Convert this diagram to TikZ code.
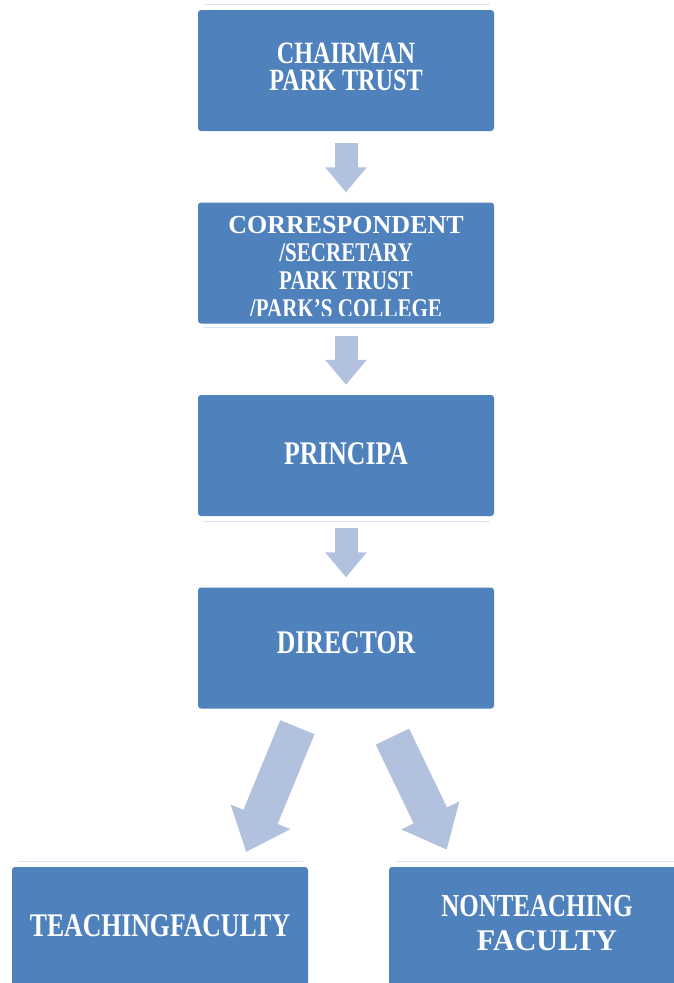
\documentclass[tikz,border=0pt]{standalone}
\usepackage{fontspec}
\usepackage{tikz}
\usetikzlibrary{arrows.meta}
\newfontfamily\narrowserif[FakeStretch=0.78]{Liberation Serif}
\newfontfamily\plainserif{Liberation Serif}
\definecolor{boxblue}{RGB}{79,129,189}
\definecolor{arrowblue}{RGB}{178,194,222}
\definecolor{glintblue}{RGB}{218,228,242}

\begin{document}
\begin{tikzpicture}[x=1pt, y=-1pt, node distance=192.5pt]
  \tikzstyle{box} = [rectangle, rounded corners=3pt, minimum width=296pt, minimum height=121pt, fill=boxblue, text=white, align=center, inner sep=0pt, font=\narrowserif\bfseries\fontsize{31}{27}\selectfont]
  \tikzstyle{downarrow} = [draw=arrowblue, line width=23pt, -{Triangle[length=25pt, width=40pt]}, shorten <=12pt, shorten >=10pt]
  \tikzstyle{bigarrow} = [draw=arrowblue, line width=37pt, -{Triangle[length=38pt, width=62pt]}]
  \tikzstyle{glint} = [draw=glintblue, line width=1pt]

  \useasboundingbox (0,0) rectangle (673,983);

  \node (chair) [box, text depth=8pt] at (346,70.5) {CHAIRMAN\\PARK TRUST};
  \node (corr) [box, below of=chair] {};
  \node (prin) [box, below of=corr, text depth=4pt, font=\narrowserif\bfseries\fontsize{33}{33}\selectfont] {PRINCIPA};
  \node (dir) [box, below of=prin, text depth=10pt, font=\narrowserif\bfseries\fontsize{33}{33}\selectfont] {DIRECTOR};
  \node (teach) [box, below of=dir, xshift=-186pt, yshift=-87pt, text depth=4pt, font=\narrowserif\bfseries\fontsize{33}{33}\selectfont] {TEACHINGFACULTY};
  \node (nonteach) [box, below of=dir, xshift=191pt, yshift=-87pt, text depth=10pt, font=\plainserif\bfseries\fontsize{30}{34}\selectfont] {{\narrowserif\fontsize{32}{34}\selectfont NONTEACHING}\\\hspace*{20pt}FACULTY};

  % text of the second box runs past its lower edge
  \begin{scope}
    \clip (corr.north west) rectangle ([yshift=8pt]corr.south east);
    \node (corrtext) [anchor=north, text=white, align=center, inner sep=0pt, font=\narrowserif\bfseries\fontsize{27}{28}\selectfont] at ([yshift=-14pt]corr.north) {{\plainserif\fontsize{26}{28}\selectfont CORRESPONDENT}\\/SECRETARY\\PARK TRUST\\/PARK’S COLLEGE};
  \end{scope}

  \draw [glint] ([xshift=6pt, yshift=5pt]chair.north west) -- ([xshift=-4pt, yshift=5pt]chair.north east);
  \draw [glint] ([xshift=5pt, yshift=-4pt]corr.south west) -- ([xshift=-4pt, yshift=-4pt]corr.south east);
  \draw [glint] ([xshift=5pt, yshift=-5pt]prin.south west) -- ([xshift=-4pt, yshift=-5pt]prin.south east);
  \draw [glint] ([xshift=6pt, yshift=5pt]teach.north west) -- ([xshift=-5pt, yshift=5pt]teach.north east);
  \draw [glint] ([xshift=7pt, yshift=5pt]nonteach.north west) -- ([yshift=5pt]nonteach.north east);

  \draw [downarrow] (chair) -- (corr);
  \draw [downarrow] (corr) -- (prin);
  \draw [downarrow] (prin) -- (dir);
  \draw [bigarrow, shorten <=20pt, shorten >=16pt] ([xshift=-41pt]dir.south) -- ([xshift=80pt]teach.north);
  \draw [bigarrow, shorten <=31pt, shorten >=19pt] ([xshift=33pt]dir.south) -- ([xshift=-82pt]nonteach.north);

\end{tikzpicture}
\end{document}
